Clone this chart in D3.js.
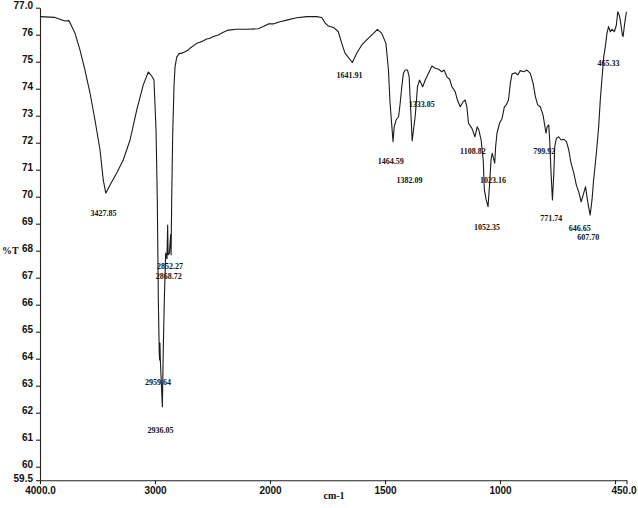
<!DOCTYPE html>
<html>
<head>
<meta charset="utf-8">
<script src="https://cdn.jsdelivr.net/npm/d3@7/dist/d3.min.js"></script>
<style>
  body { margin: 0; background: #fff; }
  svg { display: block; font-family: "Liberation Serif", "DejaVu Serif", serif; }
  .axis text { font-size: 10px; font-weight: bold; fill: #111; }
  .axis path, .axis line { stroke: #222; stroke-width: 1.1; }
  .peak-label { font-size: 8px; font-weight: bold; fill: #111; text-anchor: middle; }
  .axis-title { font-size: 10px; font-weight: bold; fill: #111; }
</style>
</head>
<body>
<div id="chart"></div>
<script>
// IR spectrum, [wavenumber cm-1, %T]
var spectrum = [
    [4000, 76.67], [3870, 76.64], [3783, 76.51], [3748, 76.52], [3696, 76.06],
    [3652, 75.43], [3609, 74.69], [3565, 73.84], [3522, 72.84], [3478, 71.73],
    [3450, 70.62], [3428, 70.13], [3391, 70.43], [3333, 70.88], [3276, 71.36],
    [3217, 72.10], [3159, 73.21], [3102, 74.14], [3058, 74.62], [3029, 74.47],
    [3009, 74.32], [2991, 72.47], [2980, 69.88], [2971, 66.17], [2963, 64.20],
    [2960, 63.95], [2957, 64.58], [2954, 64.00], [2936, 62.22], [2928, 64.32],
    [2919, 66.17], [2907, 67.91], [2896, 67.70], [2890, 68.95], [2886, 67.85],
    [2875, 67.90], [2864, 68.60], [2860, 67.85], [2855, 69.88], [2846, 72.36],
    [2835, 74.06], [2826, 74.80], [2811, 75.17], [2789, 75.31], [2768, 75.31],
    [2739, 75.37], [2710, 75.43], [2696, 75.50], [2637, 75.68], [2609, 75.72],
    [2580, 75.78], [2550, 75.84], [2522, 75.87], [2493, 75.93], [2450, 75.99],
    [2406, 76.09], [2363, 76.17], [2290, 76.20], [2203, 76.20], [2102, 76.22],
    [2058, 76.30], [2015, 76.40], [1986, 76.40], [1957, 76.48], [1927, 76.54],
    [1884, 76.63], [1840, 76.67], [1797, 76.67], [1775, 76.64], [1761, 76.44],
    [1746, 76.32], [1724, 76.27], [1703, 76.11], [1688, 75.68], [1674, 75.32],
    [1642, 74.97], [1623, 75.31], [1601, 75.62], [1572, 75.87], [1550, 76.05],
    [1533, 76.20], [1514, 76.05], [1496, 75.68], [1485, 74.69], [1478, 73.46],
    [1465, 72.04], [1460, 72.59], [1452, 72.84], [1441, 72.96], [1434, 73.46],
    [1427, 74.07], [1420, 74.57], [1412, 74.69], [1402, 74.69], [1395, 74.44],
    [1391, 73.70], [1386, 72.84], [1382, 72.07], [1376, 72.47], [1369, 72.96],
    [1364, 73.46], [1359, 74.07], [1350, 74.32], [1336, 74.07], [1325, 74.32],
    [1311, 74.57], [1296, 74.84], [1282, 74.76], [1267, 74.72], [1253, 74.63],
    [1243, 74.69], [1231, 74.44], [1219, 74.35], [1209, 74.07], [1195, 73.89],
    [1185, 73.58], [1173, 73.33], [1161, 73.51], [1151, 73.58], [1144, 73.33],
    [1137, 72.72], [1122, 72.53], [1109, 72.22], [1099, 72.59], [1092, 72.47],
    [1082, 72.10], [1073, 71.36], [1068, 70.25], [1060, 69.88], [1052, 69.63],
    [1045, 70.50], [1039, 71.36], [1034, 71.61], [1023, 71.24], [1019, 71.85],
    [1013, 72.35], [1002, 72.72], [991, 72.90], [981, 73.33], [973, 73.40],
    [963, 73.58], [955, 74.20], [948, 74.54], [933, 74.59], [923, 74.51],
    [912, 74.67], [897, 74.63], [883, 74.69], [868, 74.57], [856, 74.20],
    [846, 73.70], [836, 73.40], [825, 73.33], [813, 73.03], [800, 72.35],
    [795, 72.59], [788, 72.66], [784, 72.10], [778, 70.87], [772, 69.88],
    [766, 70.87], [762, 71.85], [755, 72.16], [745, 72.22], [734, 72.10],
    [723, 72.13], [711, 72.04], [701, 71.73], [691, 71.24], [679, 70.87],
    [668, 70.43], [658, 70.19], [647, 69.81], [628, 70.37], [622, 70.00],
    [615, 69.63], [608, 69.32], [600, 69.88], [593, 70.62], [581, 71.61],
    [571, 72.59], [564, 73.58], [556, 74.44], [549, 75.19], [542, 75.56],
    [535, 76.05], [528, 76.30], [520, 76.11], [513, 76.20], [503, 76.11],
    [494, 76.36], [488, 76.85], [482, 76.73], [477, 76.54], [468, 75.99],
    [465, 75.93], [456, 76.54], [450, 76.85]
];

// Peak labels: text, anchor wavenumber (centre), anchor %T (baseline)
var peaks = [
    ['3427.85', 3448, 69.29], ['2852.27', 2870, 67.32], ['2868.72', 2881, 66.95],
    ['2959.64', 2974, 63.03], ['2936.05', 2952, 61.25], ['1641.91', 1654, 74.40],
    ['1464.59', 1475, 71.21], ['1382.09', 1393, 70.51], ['1333.05', 1340, 73.32],
    ['1108.82', 1118, 71.58], ['1023.16', 1030, 70.51], ['1052.35', 1057, 68.77],
    ['799.92', 808, 71.58], ['771.74', 777, 69.10], ['646.65', 653, 68.73],
    ['607.70', 616, 68.40], ['465.33', 528, 74.84]
];

var xTicks = [4000, 3000, 2000, 1500, 1000, 500, 450];
var xTickText = ['4000.0', '3000', '2000', '1500', '1000', '', '450.0'];
var yTicks = [59.5, 60, 61, 62, 63, 64, 65, 66, 67, 68, 69, 70, 71, 72, 73, 74, 75, 76, 77];
var yTickText = ['59.5', '60', '61', '62', '63', '64', '65', '66', '67', '68', '69',
                 '70', '71', '72', '73', '74', '75', '76', '77.0'];

var fullWidth = 638, fullHeight = 508;
var margin = {top: 7.7, left: 40};
var width = 586.5, height = 472.5;

var svg = d3.select('#chart').append('svg')
    .attr('width', fullWidth)
    .attr('height', fullHeight);

var g = svg.append('g')
    .attr('transform', 'translate(' + margin.left + ',' + margin.top + ')');

// The instrument halves the scale below 2000 cm-1.
var x = d3.scaleLinear().domain([4000, 2000, 450]).range([0, 230, width]);
var y = d3.scaleLinear().domain([59.5, 77]).range([height, 0]);

var xAxis = d3.axisBottom(x)
    .tickValues(xTicks)
    .tickSize(4).tickSizeOuter(0)
    .tickFormat(function(d, i) { return xTickText[i]; });

var yAxis = d3.axisLeft(y)
    .tickValues(yTicks)
    .tickSize(4).tickSizeOuter(0)
    .tickFormat(function(d, i) { return yTickText[i]; });

var gx = g.append('g')
    .attr('class', 'axis axis-x')
    .attr('transform', 'translate(0,' + height + ')')
    .call(xAxis);

// Last label sits against the right edge of the window.
gx.selectAll('text')
    .filter(function(d) { return d === 450; })
    .attr('dx', '-0.3em');

g.append('g')
    .attr('class', 'axis axis-y')
    .call(yAxis)
  .selectAll('text')
    .attr('dy', '0.12em');

var line = d3.line()
    .x(function(d) { return x(d[0]); })
    .y(function(d) { return y(d[1]); });

g.append('path')
    .datum(spectrum)
    .attr('fill', 'none')
    .attr('stroke', '#1a1a1a')
    .attr('stroke-width', 1.1)
    .attr('stroke-linejoin', 'round')
    .attr('d', line);

g.selectAll('.peak-label')
    .data(peaks)
  .enter().append('text')
    .attr('class', 'peak-label')
    .attr('x', function(d) { return x(d[1]); })
    .attr('y', function(d) { return y(d[2]); })
    .text(function(d) { return d[0]; });

svg.append('text')
    .attr('class', 'axis-title')
    .attr('x', 2)
    .attr('y', 254)
    .text('%T');

svg.append('text')
    .attr('class', 'axis-title')
    .attr('x', 334)
    .attr('y', 499)
    .attr('text-anchor', 'middle')
    .text('cm-1');
</script>
</body>
</html>
